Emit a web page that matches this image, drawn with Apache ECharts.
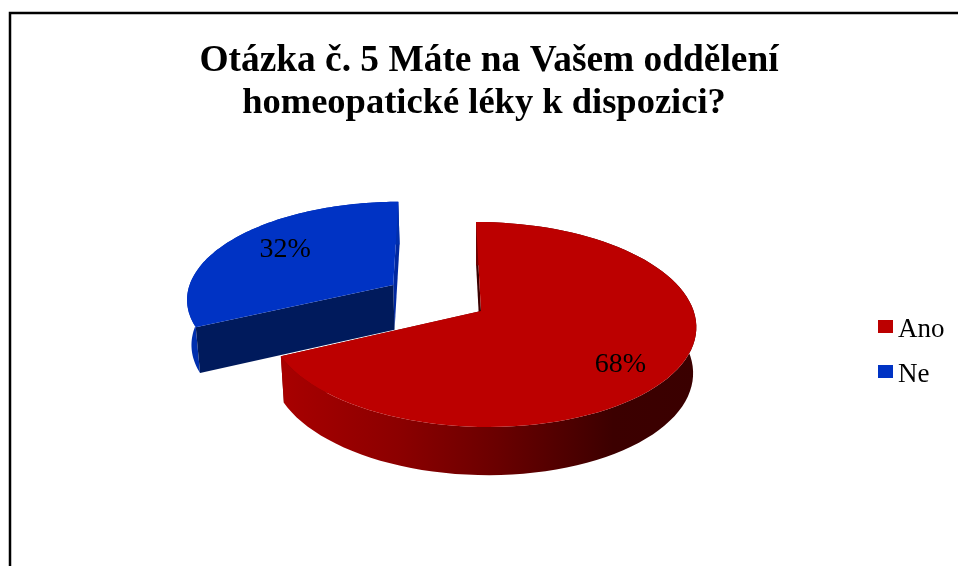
<!DOCTYPE html>
<html>
<head>
<meta charset="utf-8">
<style>html,body{margin:0;padding:0;background:#fff}#c{width:958px;height:566px}</style>
<script src="https://cdn.jsdelivr.net/npm/echarts@6/dist/echarts.min.js"></script>
</head>
<body>
<div id="c"></div>
<script>
const categories = ['Ano', 'Ne'];
const values = [68, 32];
const titleLines = ['Otázka č. 5 Máte na Vašem oddělení', 'homeopatické léky k dispozici?'];

const topColors = ['#bc0000', '#0033c4'];
const startEdgeColors = ['#3c0000', '#001a5c'];
const endEdgeColors = ['#7a0000', '#0028a0'];
const explode = [0, 0.5];
const labelNudge = [[-3, 11], [11, 0]];

// perspective of the tilted disk
const view = { cx: 481, cy: 311, rx: 212, ry: 100.7, skew: 5.6, kv: -0.132, ku: -0.003, depth: 45.5, shrink: 0.985 };

function project(u, v) {
  const w = 1 + view.kv * v + view.ku * u;
  return [view.cx + (view.rx * u + view.skew * v) / w, view.cy + view.ry * v / w, w];
}
function extrude(p) {
  return [view.cx + (p[0] - view.cx) * view.shrink, p[1] + view.depth / Math.pow(p[2], 0.4)];
}
function sliceGeometry(i) {
  const total = values.reduce((a, b) => a + b, 0);
  const before = values.slice(0, i).reduce((a, b) => a + b, 0);
  const a0 = before / total * 2 * Math.PI;
  const a1 = (before + values[i]) / total * 2 * Math.PI;
  const mid = (a0 + a1) / 2;
  return { a0, a1, mid, ou: Math.sin(mid) * explode[i], ov: -Math.cos(mid) * explode[i], pct: Math.round(values[i] / total * 100) };
}
function disk(g, angle, r) {
  return project(g.ou + r * Math.sin(angle), g.ov - r * Math.cos(angle));
}
function xy(p) { return [p[0], p[1]]; }
function wall(line) {
  return line.map(xy).concat(line.slice().reverse().map(extrude));
}
function poly(points, fill) {
  return { type: 'polygon', shape: { points }, style: { fill, stroke: null } };
}
const redSide = { type: 'linear', x: 0, y: 0, x2: 1, y2: 0, colorStops: [
  { offset: 0, color: '#a80000' }, { offset: 0.28, color: '#8c0000' },
  { offset: 0.52, color: '#6a0000' }, { offset: 0.8, color: '#3c0000' }, { offset: 1, color: '#3a0000' }] };
const outerWallFills = [redSide, '#002fae'];

function renderSlice(params) {
  const i = categories.indexOf(params.seriesName);
  const g = sliceGeometry(i);
  const steps = 90;
  const arc = [];
  for (let k = 0; k <= steps; k++) arc.push(disk(g, g.a0 + (g.a1 - g.a0) * k / steps, 1));
  const apex = project(g.ou, g.ov);
  const first = arc[0], last = arc[steps];
  const labelPoint = disk(g, g.mid, 0.74);
  const startWall = poly(wall([first, apex]), startEdgeColors[i]);
  const endWall = poly(wall([apex, last]), endEdgeColors[i]);
  const outerWall = poly(wall(arc), outerWallFills[i]);
  // back-facing cut walls are painted before the rim, front-facing ones after it
  const walls = i === 0 ? [endWall, startWall, outerWall] : [endWall, outerWall, startWall];
  return {
    type: 'group',
    children: walls.concat([
      poly([xy(apex)].concat(arc.map(xy)), topColors[i]),
      { type: 'text', style: {
          x: labelPoint[0] + labelNudge[i][0], y: labelPoint[1] + labelNudge[i][1],
          text: g.pct + '%', fill: '#000', align: 'center', verticalAlign: 'middle',
          font: '28px "Liberation Serif"' } }
    ])
  };
}

const seriesOrder = [1, 0]; // the exploded slice is painted behind
const chart = echarts.init(document.getElementById('c'), null, { renderer: 'canvas' });
const titleStyle = size => ({ fontFamily: 'Liberation Serif', fontWeight: 'bold', fontSize: size, color: '#000' });
chart.setOption({
  animation: false,
  backgroundColor: '#fff',
  title: [
    { text: titleLines[0], left: 484, top: 38, textAlign: 'center', textStyle: titleStyle(37.4) },
    { text: titleLines[1], left: 479, top: 80, textAlign: 'center', textStyle: titleStyle(36.5) }
  ],
  legend: {
    data: categories, orient: 'vertical', left: 873, top: 311, itemWidth: 15, itemHeight: 13, itemGap: 18,
    icon: 'rect', selectedMode: false,
    formatter: '{t|{name}}',
    textStyle: { rich: { t: { fontFamily: 'Liberation Serif', fontSize: 27, color: '#000', padding: [6, 0, 0, 0] } } }
  },
  graphic: [{
    type: 'rect', silent: true,
    shape: { x: 10, y: 13, width: 1000, height: 1000 },
    style: { fill: null, stroke: '#000', lineWidth: 2.5 }
  }],
  series: seriesOrder.map(i => ({
    type: 'custom', name: categories[i], coordinateSystem: 'none', silent: true,
    itemStyle: { color: topColors[i] },
    data: [[values[i]]],
    renderItem: renderSlice
  }))
});
</script>
</body>
</html>
